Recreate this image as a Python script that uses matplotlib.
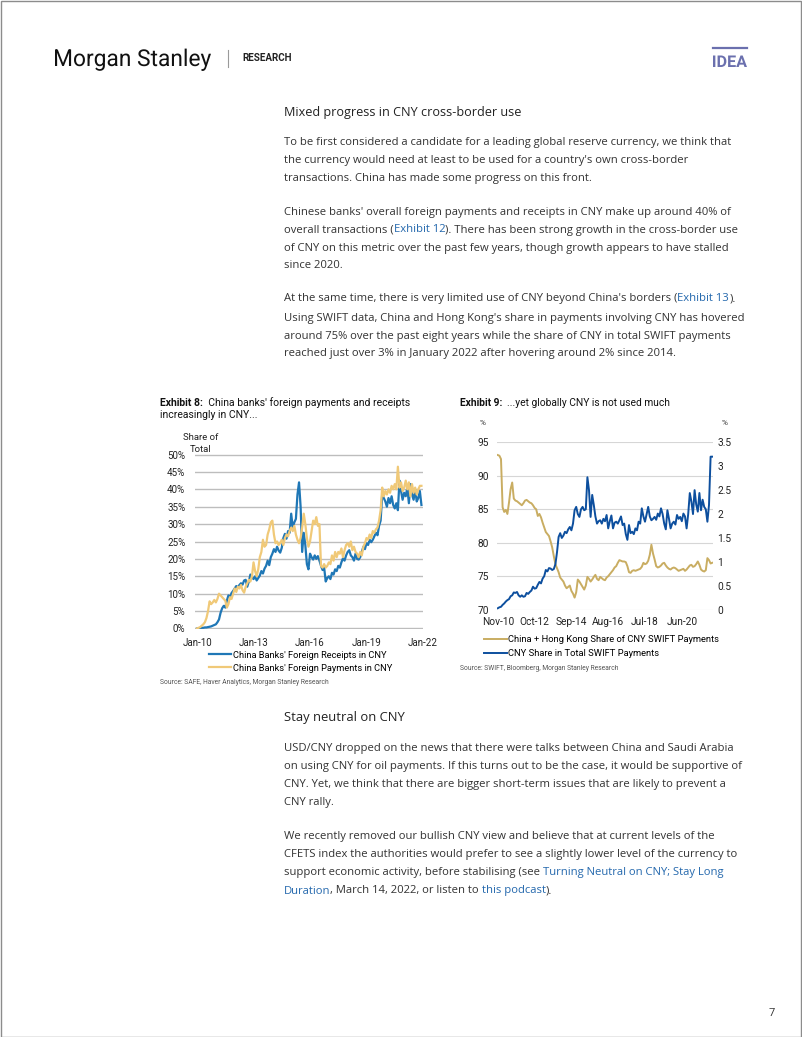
import numpy as np
import pandas as pd
import matplotlib
matplotlib.use("Agg")
import matplotlib.pyplot as plt
from matplotlib.font_manager import FontProperties
from matplotlib.lines import Line2D
from matplotlib.patches import Rectangle, PathPatch
from matplotlib.textpath import TextPath
from matplotlib.transforms import Affine2D

## Exhibit 8 data (monthly, Jan-10 .. Dec-21), share of total in %
receipts = [
  0.0, 0.1, 0.1, 0.2, 0.2, 0.3, 0.3, 0.4, 0.5, 0.6, 0.8, 1.0,
  1.2, 1.8, 2.6, 4.5, 5.8, 6.5, 6.0, 8.0, 9.5, 9.0, 10.2, 10.8,
  11.5, 12.2, 11.8, 12.5, 13.0, 12.6, 13.8, 14.0, 12.0, 13.5, 15.5, 14.8,
  14.2, 15.0, 13.8, 14.5, 15.2, 16.5, 15.8, 17.2, 18.0, 19.5, 18.2, 20.5,
  21.5, 22.8, 22.0, 23.5, 22.4, 21.8, 23.2, 26.0, 27.2, 25.8, 28.0, 27.5,
  33.0, 29.0, 30.5, 31.5, 38.5, 42.0, 35.0, 22.0, 27.5, 24.0, 18.5, 17.0,
  21.5, 20.5, 19.8, 21.0, 20.0, 20.8, 19.5, 18.0, 16.8, 17.5, 13.5, 14.5,
  15.0, 14.2, 16.0, 15.5, 17.0, 16.5, 18.0, 17.5, 19.0, 20.2, 19.5, 21.0,
  22.0, 22.5, 21.0, 20.5, 19.5, 21.5, 20.0, 19.8, 20.5, 22.0, 23.5, 22.8,
  24.5, 24.0, 25.5, 24.8, 25.5, 26.5, 27.5, 26.8, 29.5, 31.0, 38.5, 37.5,
  36.5, 35.0, 37.5, 36.0, 38.0, 35.5, 34.5, 36.0, 34.0, 42.5, 39.5, 37.0,
  39.0, 38.0, 40.5, 36.0, 41.5, 38.5, 37.0, 40.0, 36.5, 37.5, 39.5, 35.5,
]
payments = [
  0.0, 0.2, 0.4, 0.8, 1.2, 1.8, 3.0, 5.0, 7.8, 7.0, 7.5, 8.2,
  7.5, 8.5, 10.0, 9.5, 9.0, 8.5, 8.0, 6.0, 7.0, 9.0, 8.5, 10.0,
  11.5, 10.5, 12.0, 11.5, 12.5, 11.0, 10.3, 12.0, 13.0, 14.0, 13.5, 15.0,
  19.0, 16.5, 15.0, 17.0, 20.5, 22.0, 25.5, 23.5, 24.0, 27.0, 28.5, 30.5,
  31.0, 27.0, 24.5, 25.0, 24.0, 24.5, 25.5, 24.0, 26.0, 27.0, 26.5, 28.0,
  29.0, 28.0, 29.5, 27.0, 25.5, 24.5, 26.0, 29.0, 33.0, 30.0, 26.0, 23.5,
  25.0, 28.0, 31.0, 30.0, 32.0, 29.5, 30.0, 18.0, 17.5, 18.5, 17.5, 18.0,
  19.0, 18.5, 21.0, 19.5, 22.0, 20.5, 22.0, 21.5, 23.0, 20.5, 22.5, 24.0,
  24.5, 23.5, 25.0, 22.5, 23.5, 22.0, 21.5, 20.5, 22.0, 21.0, 23.5, 24.5,
  26.0, 25.5, 27.0, 26.0, 28.0, 27.5, 28.5, 29.0, 31.0, 34.0, 40.5, 38.0,
  39.5, 38.5, 40.0, 39.0, 41.0, 40.0, 41.5, 40.0, 46.5, 40.5, 42.0, 39.5,
  40.5, 42.5, 40.0, 42.0, 38.0, 41.5, 39.0, 40.5, 38.5, 40.0, 41.0, 41.0,
]
ex8_ticks = [0, 36, 72, 108, 144]
ex8_ticklabels = ["Jan-10", "Jan-13", "Jan-16", "Jan-19", "Jan-22"]

## Exhibit 9 data (monthly, Nov-10 .. Jan-22)
cnhk_share = [
  93.1, 93.0, 92.5, 85.3, 84.6, 84.9, 84.3, 86.0, 88.0, 89.0, 86.6, 86.3,
  86.2, 86.0, 85.8, 85.6, 85.9, 86.3, 86.4, 86.2, 86.0, 85.9, 85.6, 85.2,
  85.0, 84.0, 84.3, 83.8, 83.0, 82.3, 81.6, 81.3, 81.0, 80.2, 79.3, 78.0,
  76.8, 76.2, 75.6, 74.8, 74.5, 74.2, 73.6, 73.2, 73.4, 73.6, 72.8, 72.4,
  71.8, 72.6, 74.5, 74.2, 73.8, 73.4, 73.0, 73.6, 74.9, 74.6, 74.2, 74.5,
  74.9, 75.2, 74.6, 74.4, 74.9, 74.7, 74.5, 74.4, 74.8, 75.0, 75.3, 75.6,
  75.9, 76.3, 76.5, 77.0, 77.4, 77.3, 77.2, 77.2, 77.1, 76.5, 75.6, 75.5,
  75.8, 75.9, 75.8, 75.9, 76.0, 76.1, 76.4, 77.0, 76.8, 76.9, 77.3, 78.2,
  79.7, 78.4, 77.5, 76.5, 76.3, 76.4, 76.6, 76.9, 77.0, 76.6, 76.3, 76.1,
  76.0, 76.2, 76.3, 76.2, 76.0, 75.8, 75.9, 76.0, 76.1, 75.8, 76.0, 76.3,
  76.6, 76.7, 76.4, 76.5, 76.8, 77.2, 76.7, 76.0, 75.8, 75.7, 75.9, 77.7,
  77.4, 76.9, 77.0,
]
cny_share = [
  0.03, 0.05, 0.06, 0.10, 0.13, 0.17, 0.20, 0.22, 0.28, 0.30, 0.36, 0.35,
  0.37, 0.30, 0.27, 0.30, 0.27, 0.28, 0.35, 0.33, 0.37, 0.40, 0.48, 0.44,
  0.45, 0.52, 0.58, 0.55, 0.65, 0.70, 0.83, 0.80, 0.87, 0.86, 0.83, 0.85,
  0.95, 1.20, 1.52, 1.60, 1.50, 1.55, 1.63, 1.60, 1.68, 1.73, 1.66, 1.80,
  2.08, 2.15, 2.00, 1.94, 2.10, 2.15, 2.08, 2.10, 2.77, 2.50, 1.94, 2.40,
  2.19, 1.95, 1.80, 1.85, 1.87, 1.80, 1.90, 1.85, 1.98, 1.70, 1.85, 1.97,
  1.70, 1.82, 1.84, 1.80, 1.87, 1.95, 1.77, 1.80, 1.58, 1.46, 1.77, 1.60,
  1.63, 1.58, 1.70, 1.66, 1.84, 1.80, 2.12, 1.95, 1.84, 2.00, 2.15, 1.95,
  1.87, 1.90, 1.94, 1.88, 2.01, 1.95, 2.12, 2.00, 1.80, 1.68, 2.08, 1.90,
  1.70, 1.80, 1.84, 1.78, 1.98, 1.90, 1.94, 1.85, 2.01, 1.95, 1.70, 2.00,
  2.44, 2.26, 2.00, 2.50, 2.20, 2.05, 2.44, 2.08, 2.30, 2.15, 2.10, 1.84,
  2.19, 3.20, 3.20,
]
ex9_months = pd.date_range("2010-11-01", periods=len(cny_share), freq="MS")
ex9_ticks = [0, 23, 46, 69, 92, 115]

## Page text
heading1 = "Mixed progress in CNY cross-border use"
heading2 = "Stay neutral on CNY"
LINK = "link"
body1 = [
  (142, ["To be first considered a candidate for a leading global reserve currency, we think that"]),
  (161, ["the currency would need at least to be used for a country's own cross-border"]),
  (179, ["transactions. China has made some progress on this front."]),
  (212, ["Chinese banks' overall foreign payments and receipts in CNY make up around 40% of"]),
  (230, ["overall transactions (", (LINK, "Exhibit 12"), "). There has been strong growth in the cross-border use"]),
  (248, ["of CNY on this metric over the past few years, though growth appears to have stalled"]),
  (266, ["since 2020."]),
  (299, ["At the same time, there is very limited use of CNY beyond China's borders (", (LINK, "Exhibit 13"), ")."]),
  (318, ["Using SWIFT data, China and Hong Kong's share in payments involving CNY has hovered"]),
  (336, ["around 75% over the past eight years while the share of CNY in total SWIFT payments"]),
  (354, ["reached just over 3% in January 2022 after hovering around 2% since 2014."]),
]
body2 = [
  (748, ["USD/CNY dropped on the news that there were talks between China and Saudi Arabia"]),
  (767, ["on using CNY for oil payments. If this turns out to be the case, it would be supportive of"]),
  (785, ["CNY. Yet, we think that there are bigger short-term issues that are likely to prevent a"]),
  (803, ["CNY rally."]),
  (836, ["We recently removed our bullish CNY view and believe that at current levels of the"]),
  (854, ["CFETS index the authorities would prefer to see a slightly lower level of the currency to"]),
  (873, ["support economic activity, before stabilising (see ", (LINK, "Turning Neutral on CNY; Stay Long")]),
  (891, [(LINK, "Duration"), ", March 14, 2022, or listen to ", (LINK, "this podcast"), ")."]),
]

W, H = 802, 1037
fig = plt.figure(figsize=(W / 100, H / 100), dpi=100)
renderer = fig.canvas.get_renderer()

BODY = "Open Sans"
CHART = "Roboto"
TEXT_C = "#333333"
LINK_C = "#2468ad"

def fx(x):
  return x / W

def fy(y):
  return 1 - y / H

def metrics(s, size, family, weight="normal"):
  fp = FontProperties(family=family, size=size, weight=weight)
  return renderer.get_text_width_height_descent(s, fp, ismath=False)

def text_width(s, size, family, weight="normal"):
  # advance width: bracket with bars so side bearings cancel out
  return (metrics("|" + s + "|", size, family, weight)[0]
          - metrics("||", size, family, weight)[0])

def fit_size(s, width, family, weight="normal"):
  return 10 * width / text_width(s, 10, family, weight)

def rich_line(x, y, parts, size, family, color=TEXT_C):
  # y is the centre of an "lp" line box; draw every part on one shared baseline
  _, h, d = metrics("lp", size, family)
  base = y + h / 2 - d
  for p in parts:
    c, w = color, "normal"
    if isinstance(p, tuple):
      if p[0] == LINK:
        c = LINK_C
      else:
        w = p[0]
      p = p[1]
    fig.text(fx(x), fy(base), p, fontsize=size, family=family, color=c,
             weight=w, va="baseline", ha="left")
    x += text_width(p, size, family, w)

def squeezed_text(x, y_base, s, width, cap, family, weight="normal", color="#111111"):
  fp = FontProperties(family=family, weight=weight)
  tp = TextPath((0, 0), s, size=100, prop=fp)
  ext = tp.get_extents()
  cap_h = TextPath((0, 0), "H", size=100, prop=fp).get_extents().height
  tr = (Affine2D().translate(-ext.x0, 0).scale(width / ext.width / W, cap / cap_h / H)
        .translate(x / W, 1 - y_base / H) + fig.transFigure)
  fig.add_artist(PathPatch(tp, transform=tr, fc=color, ec="none"))

## Page frame and header
fig.add_artist(Rectangle((0.5 / W, 0.5 / H), (W - 1.5) / W, (H - 1.5) / H,
                         transform=fig.transFigure, fill=False, ec="#8c8c8c", lw=1.0))
squeezed_text(55, 66, "Morgan Stanley", 156, 16.5, CHART, color="#111111")
fig.add_artist(Line2D([fx(228), fx(228)], [fy(50), fy(67)], color="#9a9a9a", lw=0.8))
fig.text(fx(242), fy(58), "RESEARCH", fontsize=fit_size("RESEARCH", 50, CHART, "bold"),
         family=CHART, weight="bold", color="#222222", va="center")
squeezed_text(713, 67, "IDEA", 34, 11.5, CHART, weight="bold", color="#6b70ae")
fig.add_artist(Line2D([fx(713), fx(747)], [fy(47.5), fy(47.5)], color="#6b70ae", lw=1.6))

## Body text
body_size = fit_size(body1[0][1][0], 444, BODY)
rich_line(284, 112.5, [heading1], fit_size(heading1, 235, BODY), BODY, color="#222222")
for y, parts in body1:
  rich_line(284, y, parts, body_size, BODY)
rich_line(284, 717, [heading2], fit_size(heading2, 121, BODY), BODY, color="#222222")
for y, parts in body2:
  rich_line(284, y, parts, body_size, BODY)
fig.text(fx(772), fy(1013), "7", fontsize=8, family=BODY, color="#333333",
         ha="center", va="center")

## Exhibit 8
rich_line(160, 403, [("bold", "Exhibit 8:"), "  China banks' foreign payments and receipts"],
          7.5, CHART, color="#111111")
rich_line(160, 415.5, ["increasingly in CNY..."], 7.5, CHART, color="#111111")
fig.text(fx(201), fy(437), "Share of", fontsize=6.8, family=CHART, color="#222222",
         ha="center", va="center")
fig.text(fx(201), fy(449), "Total", fontsize=6.8, family=CHART, color="#222222",
         ha="center", va="center")

ax1 = fig.add_axes([fx(195), fy(629), (423 - 195) / W, (629 - 454) / H])
x1 = np.arange(len(receipts))
ax1.plot(x1, receipts, color="#1f77b6", lw=1.6, label="China Banks' Foreign Receipts in CNY")
ax1.plot(x1, payments, color="#f0c978", lw=1.6, label="China Banks' Foreign Payments in CNY")
ax1.set_xlim(-1.3, 144)
ax1.set_ylim(-0.15, 50.15)
ax1.set_yticks(range(0, 51, 5))
ax1.set_yticklabels([f"{v}%" for v in range(0, 51, 5)])
ax1.set_xticks(ex8_ticks)
ax1.set_xticklabels(ex8_ticklabels)
ax1.grid(axis="y", color="#bdbdbd", lw=1.0)
ax1.set_axisbelow(True)
for s in ax1.spines.values():
  s.set_visible(False)
ax1.tick_params(axis="both", length=0, labelsize=7, labelcolor="#222222")
ax1.tick_params(axis="y", pad=7)
ax1.tick_params(axis="x", pad=6.5)
for lab in ax1.get_xticklabels() + ax1.get_yticklabels():
  lab.set_family(CHART)
ax1.legend(loc="upper left", bbox_to_anchor=(fx(209), fy(650.5)), bbox_transform=fig.transFigure,
           frameon=False, borderpad=0, borderaxespad=0, handlelength=2.4, handletextpad=0.15,
           labelspacing=0.45, prop=FontProperties(family=CHART, size=6.7))
fig.text(fx(160), fy(683), "Source: SAFE, Haver Analytics, Morgan Stanley Research",
         fontsize=fit_size("Source: SAFE, Haver Analytics, Morgan Stanley Research", 170, CHART),
         family=CHART, color="#555555", va="center")

## Exhibit 9
rich_line(460, 403, [("bold", "Exhibit 9:"), "  ...yet globally CNY is not used much"],
          7.35, CHART, color="#111111")
fig.text(fx(483), fy(423), "%", fontsize=6, family=CHART, color="#333333", ha="center", va="center")
fig.text(fx(725), fy(423), "%", fontsize=6, family=CHART, color="#333333", ha="center", va="center")

ax2 = fig.add_axes([fx(497), fy(610), (713 - 497) / W, (610 - 442) / H])
x2 = np.arange(len(cnhk_share))
ax2.plot(x2, cnhk_share, color="#c9ad62", lw=1.4, label="China + Hong Kong Share of CNY SWIFT Payments")
ax2.set_xlim(-0.5, 134.5)
ax2.set_ylim(69.95, 95.05)
ax2.set_yticks(range(70, 96, 5))
ax2.set_xticks(ex9_ticks)
ax2.set_xticklabels([ex9_months[i].strftime("%b-%y") for i in ex9_ticks])
ax2.grid(axis="y", color="#d6d6d6", lw=0.8)
ax2.set_axisbelow(True)
ax2r = ax2.twinx()
ax2r.plot(x2, cny_share, color="#0d4f9e", lw=1.4, label="CNY Share in Total SWIFT Payments")
ax2r.set_ylim(-0.007, 3.507)
ax2r.set_yticks(np.arange(0, 3.51, 0.5))
ax2r.set_yticklabels(["0", "0.5", "1", "1.5", "2", "2.5", "3", "3.5"])
for a in (ax2, ax2r):
  for s in a.spines.values():
    s.set_visible(False)
  a.tick_params(axis="both", length=0, labelsize=7.3, labelcolor="#222222")
  for lab in a.get_xticklabels() + a.get_yticklabels():
    lab.set_family(CHART)
ax2.tick_params(axis="y", pad=6)
ax2r.tick_params(axis="y", pad=3)
ax2.tick_params(axis="x", pad=5)
h1, l1 = ax2.get_legend_handles_labels()
h2, l2 = ax2r.get_legend_handles_labels()
ax2r.legend(h1 + h2, l1 + l2, loc="upper left", bbox_to_anchor=(fx(484), fy(635)),
            bbox_transform=fig.transFigure, frameon=False, borderpad=0, borderaxespad=0,
            handlelength=2.4, handletextpad=0.15, labelspacing=0.55,
            prop=FontProperties(family=CHART, size=6.75))
fig.text(fx(460), fy(668), "Source: SWIFT, Bloomberg, Morgan Stanley Research",
         fontsize=fit_size("Source: SWIFT, Bloomberg, Morgan Stanley Research", 160, CHART),
         family=CHART, color="#555555", va="center")

fig.savefig("out.png", dpi=100, facecolor="white")
